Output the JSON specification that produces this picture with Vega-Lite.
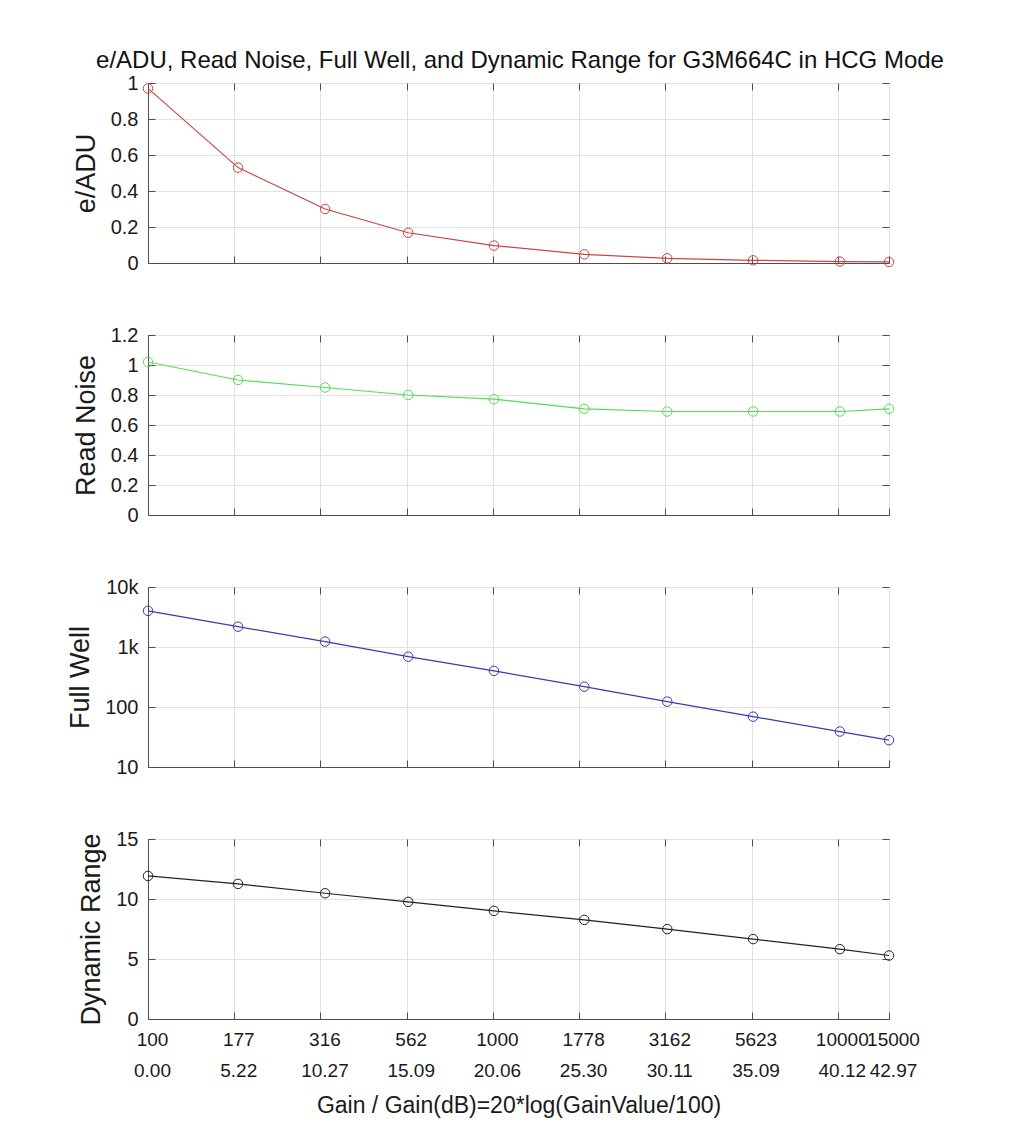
{
  "$schema": "https://vega.github.io/schema/vega-lite/v6.json",
  "description": "e/ADU, read noise, full well and dynamic range against gain, four stacked panels.",
  "padding": {"left": 66, "top": 48, "right": 20, "bottom": 5},
  "title": {
    "text": "e/ADU, Read Noise, Full Well, and Dynamic Range for G3M664C in HCG Mode",
    "font": "Liberation Sans",
    "fontSize": 24,
    "fontWeight": "normal",
    "color": "#111111",
    "anchor": "middle",
    "dx": 27,
    "offset": 0
  },
  "data": {
    "values": [
      {"gain": 100, "db": 0, "eadu": 0.97, "rn": 1.02, "fw": 4000, "dr": 11.92},
      {"gain": 177, "db": 5.22, "eadu": 0.53, "rn": 0.9, "fw": 2180, "dr": 11.26},
      {"gain": 316, "db": 10.27, "eadu": 0.3, "rn": 0.85, "fw": 1230, "dr": 10.48},
      {"gain": 562, "db": 15.09, "eadu": 0.168, "rn": 0.8, "fw": 690, "dr": 9.76},
      {"gain": 1000, "db": 20.06, "eadu": 0.097, "rn": 0.772, "fw": 400, "dr": 9.01},
      {"gain": 1778, "db": 25.3, "eadu": 0.048, "rn": 0.708, "fw": 218, "dr": 8.26},
      {"gain": 3162, "db": 30.11, "eadu": 0.026, "rn": 0.69, "fw": 123, "dr": 7.49},
      {"gain": 5623, "db": 35.09, "eadu": 0.015, "rn": 0.69, "fw": 69, "dr": 6.66},
      {"gain": 10000, "db": 40.12, "eadu": 0.008, "rn": 0.69, "fw": 39, "dr": 5.82},
      {"gain": 15000, "db": 42.97, "eadu": 0.006, "rn": 0.708, "fw": 28, "dr": 5.29}
    ]
  },
  "spacing": 50,
  "vconcat": [
    {
      "width": 741,
      "height": 180,
      "layer": [
        {
          "mark": {"type": "line", "color": "#cc4444", "strokeWidth": 1.2},
          "encoding": {
            "x": {"field": "db", "type": "quantitative", "scale": {"domain": [0, 42.97], "nice": false, "zero": false},
              "axis": {"values": [0, 5, 10, 15, 20, 25, 30, 35, 40, 42.97], "labels": false, "title": null}},
            "y": {"field": "eadu", "type": "quantitative", "scale": {"domain": [0, 1], "nice": false},
              "axis": {"values": [0, 0.2, 0.4, 0.6, 0.8, 1], "format": "~g", "title": "e/ADU"}}
          }
        },
        {
          "mark": {"type": "point", "shape": "circle", "size": 90, "filled": false, "color": "#cc4444", "strokeWidth": 1, "opacity": 1},
          "encoding": {
            "x": {"field": "db", "type": "quantitative", "axis": null},
            "y": {"field": "eadu", "type": "quantitative", "axis": null}
          }
        },
        {
          "mark": {"type": "point", "opacity": 0},
          "encoding": {
            "x": {"field": "db", "type": "quantitative",
              "axis": {"orient": "top", "values": [0, 5, 10, 15, 20, 25, 30, 35, 40], "labels": false, "grid": false, "domain": false, "title": null}},
            "y": {"field": "eadu", "type": "quantitative",
              "axis": {"orient": "right", "values": [0, 0.2, 0.4, 0.6, 0.8, 1], "labels": false, "grid": false, "domain": false, "title": null}}
          }
        }
      ],
      "resolve": {"axis": {"x": "independent", "y": "independent"}}
    },
    {
      "width": 741,
      "height": 180,
      "layer": [
        {
          "mark": {"type": "line", "color": "#55dd55", "strokeWidth": 1.2},
          "encoding": {
            "x": {"field": "db", "type": "quantitative", "scale": {"domain": [0, 42.97], "nice": false, "zero": false},
              "axis": {"values": [0, 5, 10, 15, 20, 25, 30, 35, 40, 42.97], "labels": false, "title": null}},
            "y": {"field": "rn", "type": "quantitative", "scale": {"domain": [0, 1.2], "nice": false},
              "axis": {"values": [0, 0.2, 0.4, 0.6, 0.8, 1, 1.2], "format": "~g", "title": "Read Noise"}}
          }
        },
        {
          "mark": {"type": "point", "shape": "circle", "size": 90, "filled": false, "color": "#55dd55", "strokeWidth": 1, "opacity": 1},
          "encoding": {
            "x": {"field": "db", "type": "quantitative", "axis": null},
            "y": {"field": "rn", "type": "quantitative", "axis": null}
          }
        },
        {
          "mark": {"type": "point", "opacity": 0},
          "encoding": {
            "x": {"field": "db", "type": "quantitative",
              "axis": {"orient": "top", "values": [0, 5, 10, 15, 20, 25, 30, 35, 40], "labels": false, "grid": false, "domain": false, "title": null}},
            "y": {"field": "rn", "type": "quantitative",
              "axis": {"orient": "right", "values": [0, 0.2, 0.4, 0.6, 0.8, 1, 1.2], "labels": false, "grid": false, "domain": false, "title": null}}
          }
        }
      ],
      "resolve": {"axis": {"x": "independent", "y": "independent"}}
    },
    {
      "width": 741,
      "height": 180,
      "layer": [
        {
          "mark": {"type": "line", "color": "#3b3bb0", "strokeWidth": 1.2},
          "encoding": {
            "x": {"field": "db", "type": "quantitative", "scale": {"domain": [0, 42.97], "nice": false, "zero": false},
              "axis": {"values": [0, 5, 10, 15, 20, 25, 30, 35, 40, 42.97], "labels": false, "title": null}},
            "y": {"field": "fw", "type": "quantitative", "scale": {"type": "log", "domain": [10, 10000], "nice": false},
              "axis": {"values": [10, 100, 1000, 10000], "labelExpr": "datum.value >= 1000 ? (datum.value / 1000) + 'k' : '' + datum.value", "title": "Full Well"}}
          }
        },
        {
          "mark": {"type": "point", "shape": "circle", "size": 90, "filled": false, "color": "#3b3bb0", "strokeWidth": 1, "opacity": 1},
          "encoding": {
            "x": {"field": "db", "type": "quantitative", "axis": null},
            "y": {"field": "fw", "type": "quantitative", "axis": null}
          }
        },
        {
          "mark": {"type": "point", "opacity": 0},
          "encoding": {
            "x": {"field": "db", "type": "quantitative",
              "axis": {"orient": "top", "values": [0, 5, 10, 15, 20, 25, 30, 35, 40], "labels": false, "grid": false, "domain": false, "title": null}},
            "y": {"field": "fw", "type": "quantitative",
              "axis": {"orient": "right", "values": [10, 100, 1000, 10000], "labels": false, "grid": false, "domain": false, "title": null}}
          }
        }
      ],
      "resolve": {"axis": {"x": "independent", "y": "independent"}}
    },
    {
      "width": 741,
      "height": 180,
      "layer": [
        {
          "mark": {"type": "line", "color": "#222222", "strokeWidth": 1.2},
          "encoding": {
            "x": {"field": "db", "type": "quantitative", "scale": {"domain": [0, 42.97], "nice": false, "zero": false},
              "axis": {
                "values": [0, 5, 10, 15, 20, 25, 30, 35, 40, 42.97],
                "labelExpr": "[['100', '0.00'], ['177', '5.22'], ['316', '10.27'], ['562', '15.09'], ['1000', '20.06'], ['1778', '25.30'], ['3162', '30.11'], ['5623', '35.09'], ['10000', '40.12'], ['15000', '42.97']][indexof([0, 5, 10, 15, 20, 25, 30, 35, 40, 42.97], datum.value)]",
                "labelFontSize": 19,
                "labelLineHeight": 31,
                "labelPadding": 18,
                "labelOffset": 4,
                "labelOverlap": false,
                "labelFlush": false,
                "labelBound": false,
                "title": "Gain / Gain(dB)=20*log(GainValue/100)",
                "titleFontSize": 23,
                "titlePadding": 14
              }},
            "y": {"field": "dr", "type": "quantitative", "scale": {"domain": [0, 15], "nice": false},
              "axis": {"values": [0, 5, 10, 15], "title": "Dynamic Range"}}
          }
        },
        {
          "mark": {"type": "point", "shape": "circle", "size": 90, "filled": false, "color": "#222222", "strokeWidth": 1, "opacity": 1},
          "encoding": {
            "x": {"field": "db", "type": "quantitative", "axis": null},
            "y": {"field": "dr", "type": "quantitative", "axis": null}
          }
        },
        {
          "mark": {"type": "point", "opacity": 0},
          "encoding": {
            "x": {"field": "db", "type": "quantitative",
              "axis": {"orient": "top", "values": [0, 5, 10, 15, 20, 25, 30, 35, 40], "labels": false, "grid": false, "domain": false, "title": null}},
            "y": {"field": "dr", "type": "quantitative",
              "axis": {"orient": "right", "values": [0, 5, 10, 15], "labels": false, "grid": false, "domain": false, "title": null}}
          }
        }
      ],
      "resolve": {"axis": {"x": "independent", "y": "independent"}}
    }
  ],
  "config": {
    "font": "Liberation Sans",
    "view": {"stroke": "#4d4d4d", "strokeWidth": 1},
    "axis": {
      "domainColor": "#4d4d4d",
      "tickColor": "#4d4d4d",
      "tickSize": -7,
      "grid": true,
      "gridColor": "#e2e2e2",
      "labelFont": "Liberation Sans",
      "labelFontSize": 20,
      "labelColor": "#1a1a1a",
      "labelPadding": 17,
      "titleFont": "Liberation Sans",
      "titleFontSize": 27,
      "titleFontWeight": "normal",
      "titleColor": "#1a1a1a"
    },
    "axisY": {"titlePadding": 10, "labelOverlap": false, "labelFlush": false}
  }
}
